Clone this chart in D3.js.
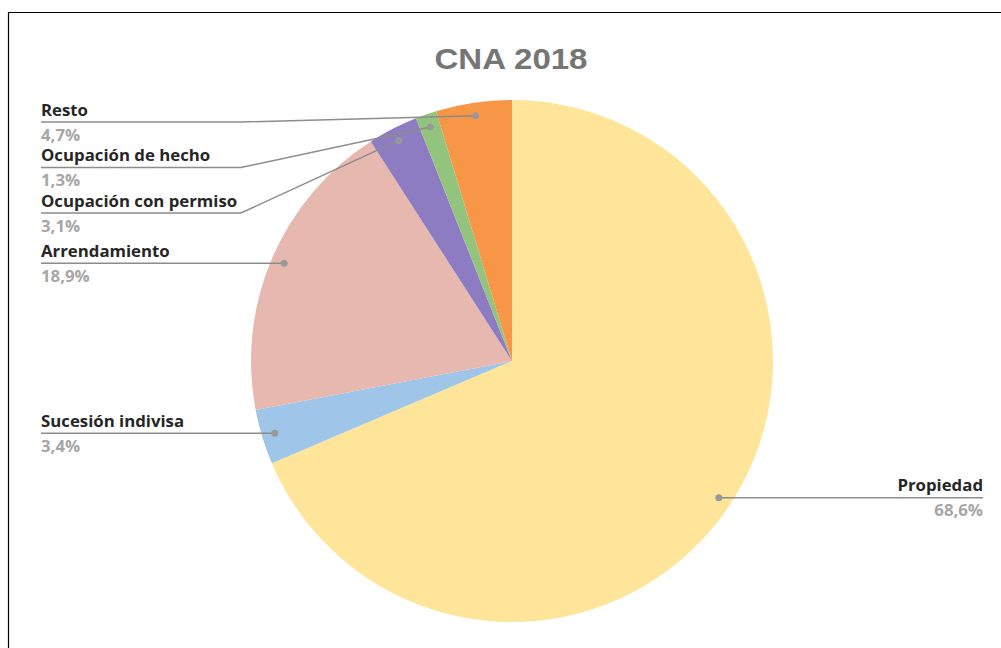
<!DOCTYPE html>
<html>
<head>
<meta charset="utf-8">
<script src="https://cdn.jsdelivr.net/npm/d3@7"></script>
<style>
  html, body { margin: 0; padding: 0; background: #fff; }
  svg { display: block; }
</style>
</head>
<body>
<svg id="chart" width="1001" height="648"></svg>
<script>
// ── Data ──────────────────────────────────────────────────────────────────────
const categories = ['Propiedad', 'Sucesión indivisa', 'Arrendamiento',
  'Ocupación con permiso', 'Ocupación de hecho', 'Resto'];
const shares = [68.6, 3.4, 18.9, 3.1, 1.3, 4.7];
const valueLabels = ['68,6%', '3,4%', '18,9%', '3,1%', '1,3%', '4,7%'];
const colors = ['#FFE599', '#9FC5E8', '#E6B8AF', '#8E7CC3', '#93C47D', '#F79646'];

// ── Layout ────────────────────────────────────────────────────────────────────
const W = 1001, H = 648;
const cx = 512, cy = 361, R = 261;
const svg = d3.select('#chart');

// frame (only left and top edges are visible in the crop)
svg.append('path')
  .attr('d', `M8.5,${H} V12.5 H${W}`)
  .attr('fill', 'none').attr('stroke', '#000').attr('stroke-width', 1.2);

svg.append('text')
  .attr('x', 511).attr('y', 69)
  .attr('text-anchor', 'middle')
  .attr('font-family', 'Liberation Sans, Arial, sans-serif')
  .attr('font-weight', 'bold')
  .attr('font-size', 30)
  .attr('textLength', 153).attr('lengthAdjust', 'spacingAndGlyphs')
  .attr('fill', '#757575')
  .text('CNA 2018');

const data = categories.map((c, i) => ({ name: c, value: shares[i], label: valueLabels[i], color: colors[i] }));

const pie = d3.pie().value(d => d.value).sort(null);
const arcs = pie(data);
const arc = d3.arc().innerRadius(0).outerRadius(R);
const dotArc = d3.arc().innerRadius(R * 0.95).outerRadius(R * 0.95);

const g = svg.append('g').attr('transform', `translate(${cx},${cy})`);
g.selectAll('path').data(arcs).join('path')
  .attr('d', arc)
  .attr('fill', d => d.data.color);

// ── Labels ────────────────────────────────────────────────────────────────────
const leftX = 41, elbowX = 241, rightX = 983, minY = 122, gap = 45.5;

const items = arcs.map(a => {
  const [x, y] = dotArc.centroid(a);
  return { a, dx: cx + x, dy: cy + y, left: x < 0 };
});

// stack left labels top-down, pushing them apart
const leftItems = items.filter(d => d.left).sort((p, q) => p.dy - q.dy);
let prev = -Infinity;
leftItems.forEach(d => {
  d.ly = Math.max(d.dy, minY, prev + gap);
  prev = d.ly;
});
items.filter(d => !d.left).forEach(d => { d.ly = d.dy; });

const lab = svg.append('g');
items.forEach(d => {
  let pts;
  if (d.left) {
    pts = d.dx > elbowX
      ? [[leftX, d.ly], [elbowX, d.ly], [d.dx, d.dy]]
      : [[leftX, d.ly], [d.dx, d.dy]];
  } else {
    pts = [[rightX, d.ly], [d.dx, d.dy]];
  }
  lab.append('path')
    .attr('d', d3.line()(pts))
    .attr('fill', 'none')
    .attr('stroke', '#8C8C8C')
    .attr('stroke-width', 1.5);
  lab.append('circle')
    .attr('cx', d.dx).attr('cy', d.dy).attr('r', 3.5)
    .attr('fill', '#999');

  const tx = d.left ? leftX : rightX;
  const anchor = d.left ? 'start' : 'end';
  lab.append('text')
    .attr('x', tx).attr('y', d.ly - 6.5)
    .attr('text-anchor', anchor)
    .attr('font-family', 'Open Sans, sans-serif')
    .attr('font-weight', 'bold')
    .attr('font-size', 16.8)
    .attr('fill', '#262626')
    .text(d.a.data.name);
  lab.append('text')
    .attr('x', tx).attr('y', d.ly + 18.7)
    .attr('text-anchor', anchor)
    .attr('font-family', 'Open Sans, sans-serif')
    .attr('font-weight', 'bold')
    .attr('font-size', 16.8)
    .attr('fill', '#A6A6A6')
    .text(d.a.data.label);
});
</script>
</body>
</html>
